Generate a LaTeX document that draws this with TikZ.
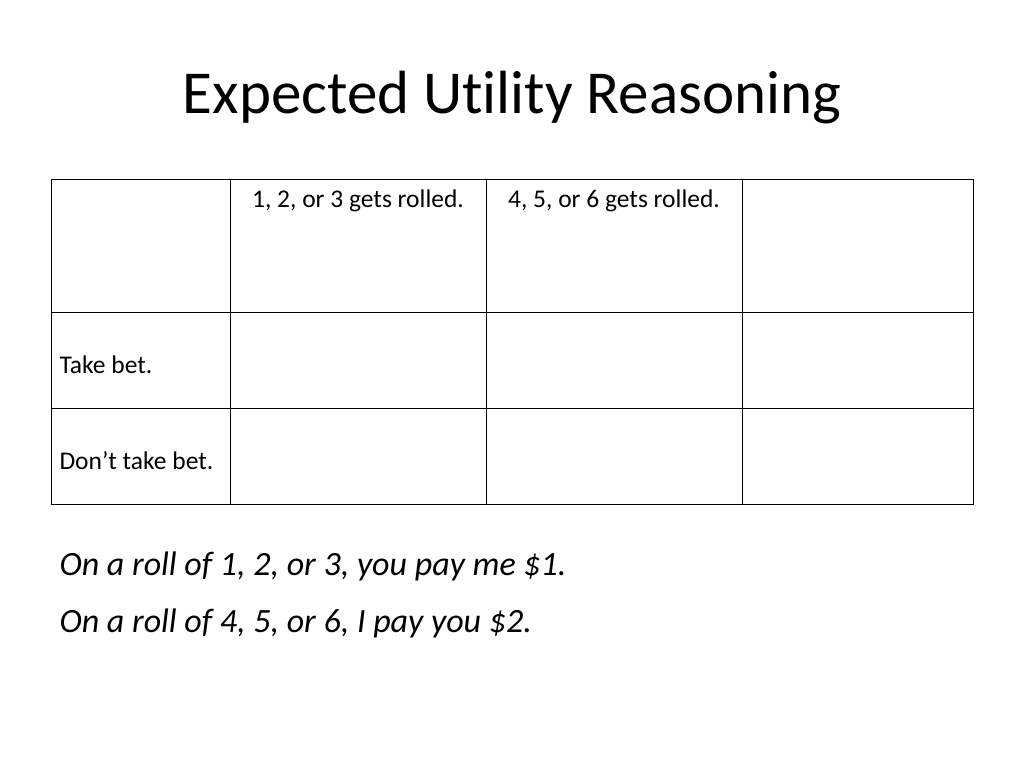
\documentclass[tikz,border=0pt]{standalone}
\usepackage{fontspec}
\setmainfont[Ligatures={NoCommon}]{Carlito}
\begin{document}
\begin{tikzpicture}[x=1pt,y=-1pt,
  cell/.style={font=\fontsize{25.5}{28}\selectfont},
  line/.style={draw=black,line width=1pt}]
\useasboundingbox (0,0) rectangle (1024,768);
\node (title) at (512,98) {\fontsize{61}{70}\selectfont Expected Utility Reasoning};
\draw[line] (51,179) rectangle (973,504);
\foreach \x in {230,486,742} \draw[line] (\x,179) -- (\x,504);
\foreach \y in {312,408} \draw[line] (51,\y) -- (973,\y);
\node[cell] (h1) at (358,201) {1, 2, or 3 gets rolled.};
\node[cell] (h2) at (614,201) {4, 5, or 6 gets rolled.};
\node[cell,anchor=west] (r1) at (56,365) {Take bet.};
\node[cell,anchor=west] (r2) at (56,461) {Don’t take bet.};
\node[anchor=west,font=\fontsize{34}{38}\selectfont\itshape] (l1) at (56,566) {On a roll of 1, 2, or 3, you pay me \$1.};
\node[anchor=west,font=\fontsize{34}{38}\selectfont\itshape] (l2) at (56,623) {On a roll of 4, 5, or 6, I pay you \$2.};
\end{tikzpicture}
\end{document}
